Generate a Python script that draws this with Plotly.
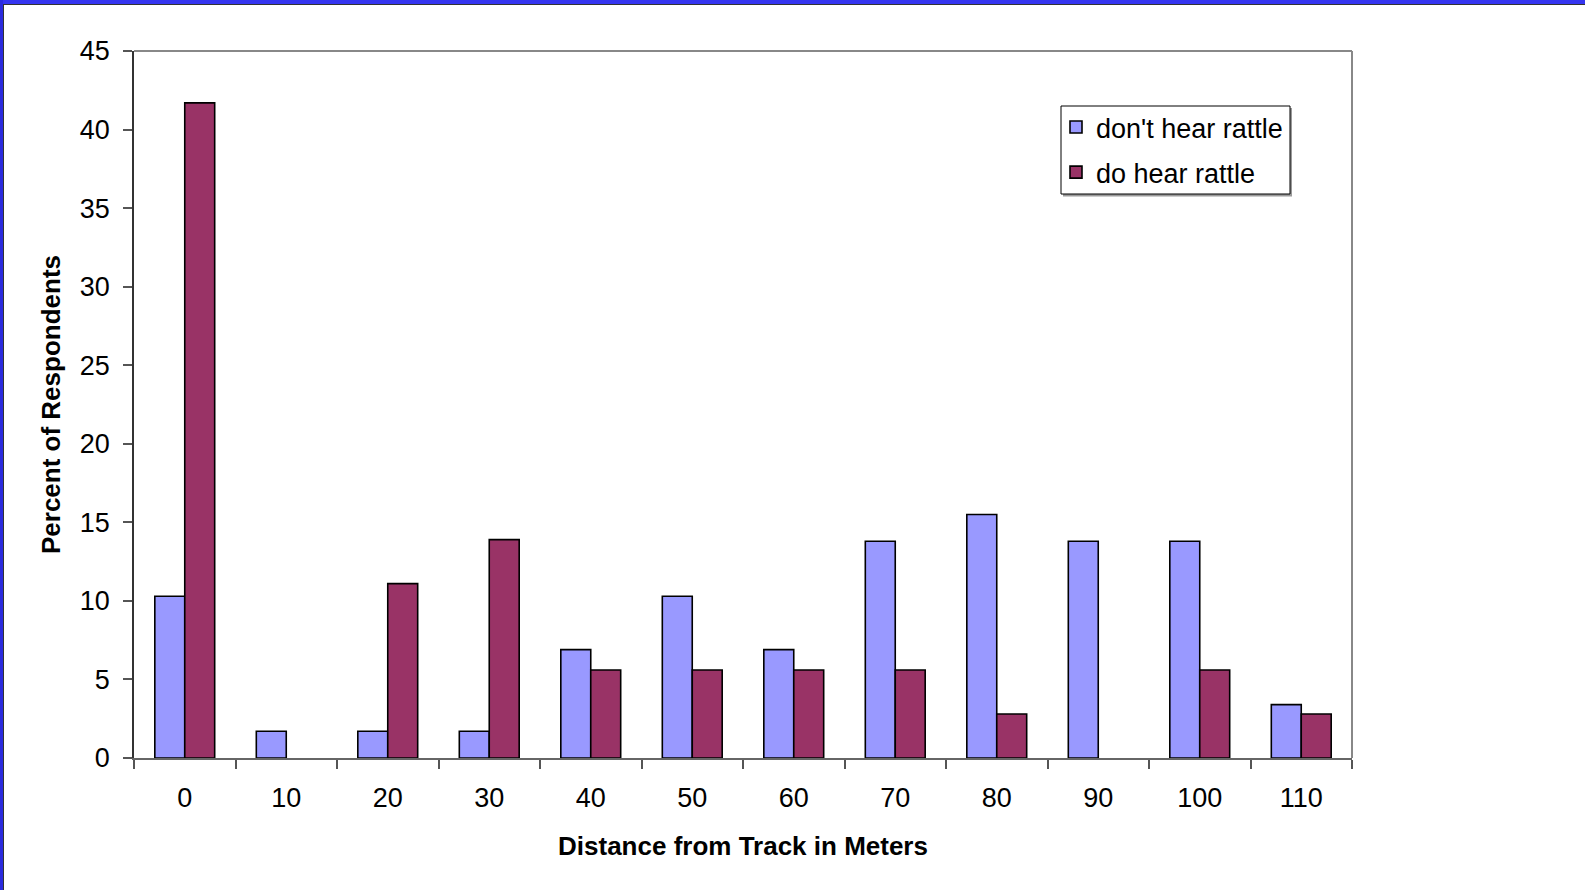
import plotly.graph_objects as go

# Survey results: share of respondents by distance from the track
distances = ["0", "10", "20", "30", "40", "50", "60", "70", "80", "90", "100", "110"]
dont_hear = [10.3, 1.7, 1.7, 1.7, 6.9, 10.3, 6.9, 13.8, 15.5, 13.8, 13.8, 3.4]
do_hear = [41.7, 0, 11.1, 13.9, 5.6, 5.6, 5.6, 5.6, 2.8, 0, 5.6, 2.8]

W, H = 1585, 890
L, R, T, B = 134, 1352, 51, 758  # plot-area pixel edges
PW, PH = R - L, B - T


def px_x(p):
    return (p - L) / PW


def px_y(p):
    return (B - p) / PH


def outline(values):
    # no outline on empty bars so they leave no stub on the axis
    return [0 if v == 0 else 1.6 for v in values]


FONT = "Liberation Sans, Arial, sans-serif"

fig = go.Figure()
fig.add_trace(go.Bar(
    x=distances, y=dont_hear, name="don't hear rattle",
    marker=dict(color="#9999FF", line=dict(color="#000000", width=outline(dont_hear))),
    legendgroup="a",
))
fig.add_trace(go.Bar(
    x=distances, y=do_hear, name="do hear rattle",
    marker=dict(color="#993366", line=dict(color="#000000", width=outline(do_hear))),
    legendgroup="b",
))

shapes = [
    # outer frame of the slide
    dict(type="rect", xref="paper", yref="paper",
         x0=px_x(0), x1=px_x(W), y0=px_y(0), y1=px_y(4),
         fillcolor="#3535F0", line=dict(width=0), layer="above"),
    dict(type="rect", xref="paper", yref="paper",
         x0=px_x(0), x1=px_x(3), y0=px_y(0), y1=px_y(H),
         fillcolor="#2B2BDD", line=dict(width=0), layer="above"),
    dict(type="line", xref="paper", yref="paper",
         x0=px_x(3), x1=px_x(W), y0=px_y(4.5), y1=px_y(4.5),
         line=dict(color="#333333", width=1), layer="above"),
    dict(type="line", xref="paper", yref="paper",
         x0=px_x(3.5), x1=px_x(3.5), y0=px_y(4), y1=px_y(H),
         line=dict(color="#333333", width=1), layer="above"),
    # top and right plot borders
    dict(type="line", xref="paper", yref="paper",
         x0=0, x1=1, y0=1, y1=1, line=dict(color="#888888", width=2)),
    dict(type="line", xref="paper", yref="paper",
         x0=1, x1=1, y0=0, y1=1, line=dict(color="#888888", width=2)),
    # legend box with a soft drop shadow
    dict(type="rect", xref="paper", yref="paper",
         x0=px_x(1063), x1=px_x(1292), y0=px_y(108), y1=px_y(196.5),
         fillcolor="#9a9a9a", line=dict(width=0), layer="above"),
    dict(type="rect", xref="paper", yref="paper",
         x0=px_x(1061), x1=px_x(1290), y0=px_y(106), y1=px_y(194),
         fillcolor="white", line=dict(color="#000000", width=1), layer="above"),
]

fig.update_layout(
    width=W, height=H,
    margin=dict(l=L, r=W - R, t=T, b=H - B, pad=0),
    paper_bgcolor="white", plot_bgcolor="white",
    barmode="group", bargap=0.41, bargroupgap=0,
    font=dict(family=FONT, size=27, color="#000000"),
    showlegend=True,
    legend=dict(
        x=px_x(1056), y=px_y(103), xanchor="left", yanchor="top",
        bgcolor="rgba(0,0,0,0)", borderwidth=0,
        font=dict(family=FONT, size=27, color="#000000"),
        tracegroupgap=7, traceorder="grouped",
    ),
    xaxis=dict(
        type="category", tickson="boundaries",
        ticks="outside", ticklen=9, tickcolor="#555555", tickwidth=1.5,
        showline=True, linecolor="#666666", linewidth=2,
        showgrid=False, zeroline=False,
        ticklabelstandoff=15,
        tickfont=dict(family=FONT, size=27),
        title=dict(text="<b>Distance from Track in Meters</b>",
                   font=dict(family=FONT, size=26), standoff=24),
    ),
    yaxis=dict(
        range=[0, 45], dtick=5,
        ticks="outside", ticklen=9, tickcolor="#555555", tickwidth=1.5,
        showline=True, linecolor="#333333", linewidth=1.5,
        showgrid=False, zeroline=False,
        ticklabelstandoff=8,
        tickfont=dict(family=FONT, size=27),
        title=dict(text="<b>Percent of Respondents</b>",
                   font=dict(family=FONT, size=26), standoff=12),
    ),
    shapes=shapes,
)

fig.write_html("out.html")
